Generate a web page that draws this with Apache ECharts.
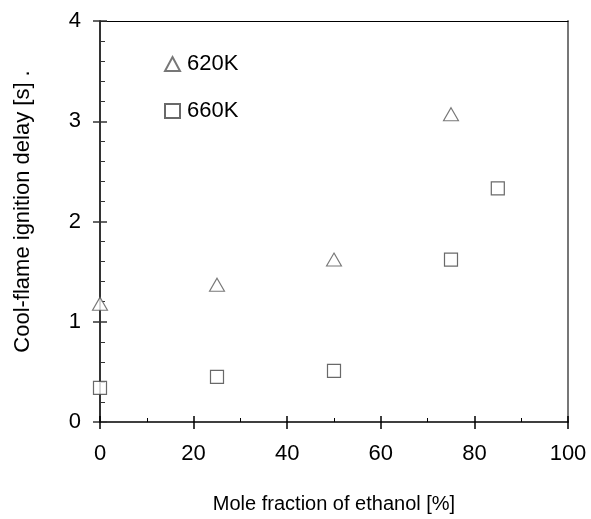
<!DOCTYPE html>
<html><head><meta charset="utf-8">
<script src="https://cdn.jsdelivr.net/npm/echarts@6/dist/echarts.min.js"></script>
<style>html,body{margin:0;padding:0;background:#fff}#c{width:591px;height:519px}</style>
</head><body><div id="c"></div>
<script>
var xTicks = [0, 20, 40, 60, 80, 100];
var yTicks = [0, 1, 2, 3, 4];
var s620x = [0, 25, 50, 75];
var s620y = [1.18, 1.37, 1.62, 3.07];
var s660x = [0, 25, 50, 75, 85];
var s660y = [0.34, 0.45, 0.51, 1.62, 2.33];
var names = ['620K', '660K'];

function pairs(xs, ys){ return xs.map(function(x,i){return [x, ys[i]];}); }
var font = 'Liberation Sans, Arial, sans-serif';
var chart = echarts.init(document.getElementById('c'), null, {renderer:'canvas'});
var base = {min:0, type:'value', splitLine:{show:false}};
chart.setOption({
  animation:false,
  grid:{left:100, right:23, top:21, bottom:95},
  legend:{
    orient:'vertical', left:164, top:53, padding:0, itemGap:25, itemWidth:15, itemHeight:14,
    textStyle:{fontFamily:font, fontSize:22, color:'#000', padding:[0,0,0,2]},
    data:[{name:names[0], icon:'triangle'},{name:names[1], icon:'rect'}]
  },
  xAxis:[
    Object.assign({}, base, {max:100, interval:20, position:'bottom',
      name:'Mole fraction of ethanol [%]', nameLocation:'middle', nameGap:72,
      nameTextStyle:{fontFamily:font, fontSize:20, color:'#000'},
      axisLine:{onZero:false, lineStyle:{color:'#000', width:1.5}},
      axisTick:{inside:false, length:7, lineStyle:{color:'#000', width:1.5}},
      axisLabel:{fontFamily:font, fontSize:22, color:'#000', margin:21,
        formatter:function(v){return xTicks.indexOf(v) >= 0 ? String(v) : '';}}}),
    Object.assign({}, base, {max:100, interval:20, position:'bottom',
      axisLine:{show:false, onZero:false}, axisLabel:{show:false},
      axisTick:{inside:true, length:6, lineStyle:{color:'#000', width:1.5}},
      minorTick:{show:true, splitNumber:2, length:4, lineStyle:{color:'#000', width:1}}}),
    Object.assign({}, base, {max:100, interval:20, position:'top',
      axisLine:{onZero:false, lineStyle:{color:'#000', width:1}}, axisTick:{show:false}, axisLabel:{show:false}})
  ],
  yAxis:[
    Object.assign({}, base, {max:4, interval:1, position:'left',
      name:'Cool-flame ignition delay [s] .', nameLocation:'middle', nameGap:66,
      nameTextStyle:{fontFamily:font, fontSize:22, color:'#000', padding:[0,0,0,20]},
      axisLine:{onZero:false, lineStyle:{color:'#333', width:2}},
      axisTick:{inside:false, length:7, lineStyle:{color:'#333', width:1.5}},
      axisLabel:{fontFamily:font, fontSize:22, color:'#000', margin:19,
        formatter:function(v){return yTicks.indexOf(v) >= 0 ? String(v) : '';}}}),
    Object.assign({}, base, {max:4, interval:1, position:'left',
      axisLine:{show:false, onZero:false}, axisLabel:{show:false},
      axisTick:{inside:true, length:7, lineStyle:{color:'#333', width:1.5}},
      minorTick:{show:true, splitNumber:5, length:5, lineStyle:{color:'#333', width:1}}}),
    Object.assign({}, base, {max:4, interval:1, position:'right',
      axisLine:{onZero:false, lineStyle:{color:'#777', width:2}}, axisTick:{show:false}, axisLabel:{show:false}})
  ],
  series:[
    {name:names[0], type:'scatter', symbol:'triangle', symbolSize:[15,13],
     itemStyle:{color:'#fff', borderColor:'#555', borderWidth:1.1}, data:pairs(s620x, s620y)},
    {name:names[1], type:'scatter', symbol:'rect', symbolSize:13,
     itemStyle:{color:'#fff', borderColor:'#444', borderWidth:1.2}, data:pairs(s660x, s660y)}
  ]
});
</script></body></html>
